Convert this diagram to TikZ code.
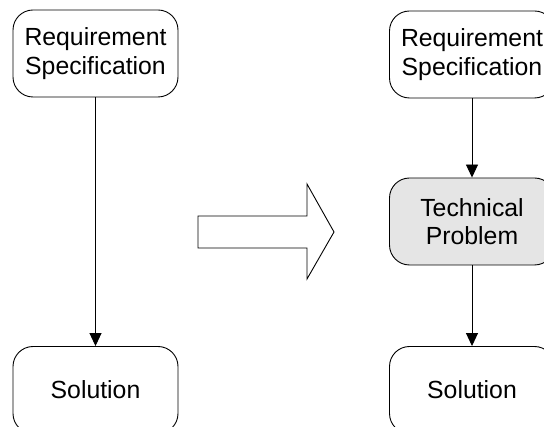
\documentclass[tikz,border=0pt]{standalone}
\usepackage{fontspec}
\setmainfont{Liberation Sans}
\usetikzlibrary{arrows.meta}
\begin{document}
\begin{tikzpicture}[x=1pt,y=-1pt,
  box/.style={draw, line width=0.9pt, rounded corners=20pt, minimum width=165pt,
    minimum height=87pt, align=center, inner sep=0pt,
    font=\fontsize{24.8}{28.5}\selectfont},
  shaded/.style={fill=black!10},
  flow/.style={line width=0.9pt, -{Triangle[length=13pt,width=12pt]}}]
  \useasboundingbox (0,0) rectangle (544,427);
  \clip (0,0) rectangle (544,427);
  % left column: direct route
  \node[box] (req1) at (95.5,53.5) {Requirement\\Specification};
  \node[box] (sol1) at (95.5,390) {Solution};
  \draw[flow] (req1) -- (sol1);
  % transition arrow
  \draw[line width=0.9pt, fill=white]
    (198,216) -- (307,216) -- (307,184) -- (334,232) -- (307,279)
    -- (307,248) -- (198,248) -- cycle;
  % right column: route through the technical problem
  \node[box] (req2) at (472,54.5) {Requirement\\Specification};
  \node[box, shaded] (prob) at (472,221.5) {Technical\\Problem};
  \node[box] (sol2) at (472,390) {Solution};
  \draw[flow] (req2) -- (prob);
  \draw[flow] (prob) -- (sol2);
\end{tikzpicture}
\end{document}
